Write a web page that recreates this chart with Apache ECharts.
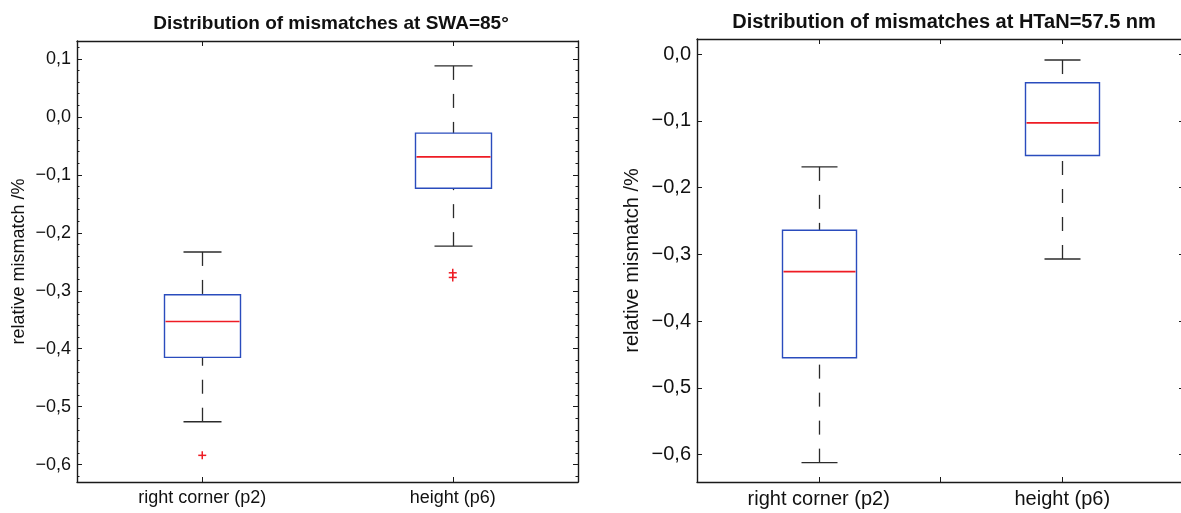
<!DOCTYPE html>
<html>
<head>
<meta charset="utf-8">
<script src="https://cdn.jsdelivr.net/npm/echarts@6/dist/echarts.min.js"></script>
<style>
    html, body { margin: 0; padding: 0; background: #fff; }
    #chart { width: 1181px; height: 513px; }
</style>
</head>
<body>
<div id="chart"></div>
<script>
// Categorias (iguales en los dos paneles)
var categories = ['right corner (p2)', 'height (p6)'];

// Panel izquierdo: SWA = 85°
var swaLow = [-0.526, -0.223];
var swaQ1 = [-0.415, -0.123];
var swaMedian = [-0.353, -0.069];
var swaQ3 = [-0.307, -0.028];
var swaHigh = [-0.233, 0.088];
var swaOutliers = [[0, -0.584], [1, -0.269], [1, -0.277]];

// Panel derecho: HTaN = 57.5 nm
var htanLow = [-0.612, -0.307];
var htanQ1 = [-0.455, -0.152];
var htanMedian = [-0.326, -0.103];
var htanQ3 = [-0.264, -0.043];
var htanHigh = [-0.169, -0.009];

// Marcas de los ejes
var swaTicks = [-0.6, -0.5, -0.4, -0.3, -0.2, -0.1, 0, 0.1];
var htanTicks = [-0.6, -0.5, -0.4, -0.3, -0.2, -0.1, 0];
var swaMinorTicks = [];
for (var k = -31; k <= 6; k++) {
    if (k % 5 !== 0) swaMinorTicks.push(Math.round(k * 2) / 100);
}

var FONT = "'Liberation Sans', Arial, Helvetica, sans-serif";
var boxColor = '#2a4cbd';
var medianColor = '#ee1c24';
var whiskerColor = '#2b2b2b';
var axisColor = '#1a1a1a';

function fmt(v) {
    var r = Math.round(v * 10) / 10;
    return (r < 0 ? '\u2212' : '') + Math.abs(r).toFixed(1).replace('.', ',');
}

function boxData(low, q1, med, q3, high) {
    return categories.map(function (c, i) {
        return [i, low[i], q1[i], med[i], q3[i], high[i]];
    });
}

// Dibuja caja, mediana y bigotes con las escalas del eje
function renderBox(params, api) {
    var x = api.value(0);
    var band = api.size([1, 0])[0];
    var half = Math.round(band * 0.15), cap = Math.round(band * 0.075);
    var yLow = api.coord([x, api.value(1)])[1];
    var yQ1 = api.coord([x, api.value(2)])[1];
    var yMed = api.coord([x, api.value(3)])[1];
    var yQ3 = api.coord([x, api.value(4)])[1];
    var yHigh = api.coord([x, api.value(5)])[1];
    var cx = Math.round(api.coord([x, api.value(3)])[0]) + 0.5;
    var wStyle = { stroke: whiskerColor, lineWidth: 1.3, lineDash: [14, 14] };
    var cStyle = { stroke: whiskerColor, lineWidth: 1.4 };
    return {
        type: 'group',
        children: [
            { type: 'line', shape: { x1: cx, y1: yHigh, x2: cx, y2: yQ3 }, style: wStyle },
            { type: 'line', shape: { x1: cx, y1: yLow, x2: cx, y2: yQ1 }, style: wStyle },
            { type: 'line', shape: { x1: cx - cap, y1: yHigh, x2: cx + cap, y2: yHigh }, style: cStyle },
            { type: 'line', shape: { x1: cx - cap, y1: yLow, x2: cx + cap, y2: yLow }, style: cStyle },
            { type: 'rect', shape: { x: cx - half, y: yQ3, width: half * 2, height: yQ1 - yQ3 },
              style: { fill: 'none', stroke: boxColor, lineWidth: 1.4 } },
            { type: 'line', z2: 5, shape: { x1: cx - half + 1, y1: yMed, x2: cx + half - 1, y2: yMed },
              style: { stroke: medianColor, lineWidth: 1.7 } }
        ]
    };
}

function renderPlus(params, api) {
    var p = api.coord([api.value(0), api.value(1)]);
    var s = 4;
    var st = { stroke: medianColor, lineWidth: 1.5 };
    return {
        type: 'group',
        children: [
            { type: 'line', shape: { x1: p[0] - s, y1: p[1], x2: p[0] + s, y2: p[1] }, style: st },
            { type: 'line', shape: { x1: p[0], y1: p[1] - s, x2: p[0], y2: p[1] + s }, style: st }
        ]
    };
}

function catAxis(grid, pos, opts) {
    return {
        type: 'category', gridIndex: grid, position: pos, data: categories,
        axisLine: { show: opts.line, onZero: false, lineStyle: { color: axisColor, width: 1.4 } },
        axisTick: { show: true, inside: true, length: 5, alignWithLabel: opts.align,
                    lineStyle: { color: axisColor, width: 1 } },
        axisLabel: { show: !!opts.label, margin: 7, color: '#111', fontFamily: FONT, fontSize: opts.fontSize || 17 },
        splitLine: { show: false }
    };
}

function valAxis(grid, pos, min, max, ticks, opts) {
    return {
        type: 'value', gridIndex: grid, position: pos, min: min, max: max,
        name: opts.name || '', nameLocation: 'middle', nameGap: opts.nameGap || 0,
        nameTextStyle: { color: '#111', fontFamily: FONT, fontSize: opts.nameSize || 17 },
        axisLine: { show: opts.line, onZero: false, lineStyle: { color: axisColor, width: 1.4 } },
        axisTick: { show: true, inside: true, length: opts.tickLen || 5, customValues: ticks,
                    lineStyle: { color: axisColor, width: 1 } },
        axisLabel: { show: !!opts.label, customValues: ticks, margin: 6, formatter: fmt,
                     color: '#111', fontFamily: FONT, fontSize: opts.fontSize || 17 },
        splitLine: { show: false }
    };
}

var chart = echarts.init(document.getElementById('chart'));

var option = {
    backgroundColor: '#fff',
    animation: false,
    title: [
        { text: 'Distribution of mismatches at SWA=85°', left: 326, top: 9, textAlign: 'center',
          textStyle: { fontFamily: FONT, fontWeight: 'bold', fontSize: 19, color: '#111' } },
        { text: 'Distribution of mismatches at HTaN=57.5 nm', left: 939, top: 7, textAlign: 'center',
          textStyle: { fontFamily: FONT, fontWeight: 'bold', fontSize: 20, color: '#111' } }
    ],
    grid: [
        { left: 77, top: 41, width: 501, height: 441, outerBoundsMode: 'none' },
        { left: 697, top: 39, width: 487, height: 443, outerBoundsMode: 'none' }
    ],
    xAxis: [
        catAxis(0, 'bottom', { line: true, align: true, label: true, fontSize: 18 }),
        catAxis(0, 'top', { line: true, align: true }),
        catAxis(1, 'bottom', { line: true, align: true, label: true, fontSize: 20 }),
        catAxis(1, 'bottom', { line: false, align: false }),
        catAxis(1, 'top', { line: true, align: true }),
        catAxis(1, 'top', { line: false, align: false })
    ],
    yAxis: [
        valAxis(0, 'left', -0.63, 0.131, swaTicks, { line: true, label: true, fontSize: 18,
            name: 'relative mismatch /%', nameGap: 49, nameSize: 18 }),
        valAxis(0, 'left', -0.63, 0.131, swaMinorTicks, { line: false, tickLen: 2.5 }),
        valAxis(0, 'right', -0.63, 0.131, swaTicks, { line: true }),
        valAxis(0, 'right', -0.63, 0.131, swaMinorTicks, { line: false, tickLen: 2.5 }),
        valAxis(1, 'left', -0.641, 0.0225, htanTicks, { line: true, label: true, fontSize: 20,
            name: 'relative mismatch /%', nameGap: 55, nameSize: 20 }),
        valAxis(1, 'right', -0.641, 0.0225, htanTicks, { line: true })
    ],
    series: [
        { type: 'custom', name: 'SWA', xAxisIndex: 0, yAxisIndex: 0, renderItem: renderBox,
          encode: { x: 0, y: [1, 2, 3, 4, 5] },
          data: boxData(swaLow, swaQ1, swaMedian, swaQ3, swaHigh) },
        { type: 'custom', name: 'SWA outliers', xAxisIndex: 0, yAxisIndex: 0, renderItem: renderPlus,
          encode: { x: 0, y: 1 }, data: swaOutliers },
        { type: 'custom', name: 'HTaN', xAxisIndex: 2, yAxisIndex: 4, renderItem: renderBox,
          encode: { x: 0, y: [1, 2, 3, 4, 5] },
          data: boxData(htanLow, htanQ1, htanMedian, htanQ3, htanHigh) }
    ]
};

chart.setOption(option);
</script>
</body>
</html>
